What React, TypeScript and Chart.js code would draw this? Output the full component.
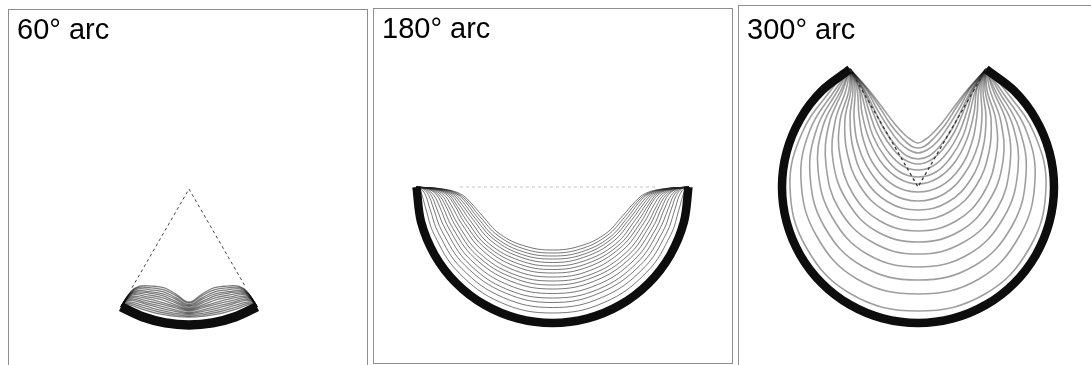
import React, { useEffect, useRef } from "react";
import { Chart, registerables } from "chart.js";

Chart.register(...registerables);

// ---------------- DATA (polar: angle in degrees from straight down, radius in px) -------------
// 60° arc panel
const arc60Angles = [-30, -20, -10, 0, 10, 20, 30];
const arc60Radii = [136, 136, 136, 136, 136, 136, 136];
const guide60Angles = [-30, 0, 30];
const guide60Radii = [114, 0, 114];
const curve60Angles = [-30, -29.5, -27, -21, -14, -7, 0, 7, 14, 21, 27, 29.5, 30];
const curve60Radii = [
  [136, 118, 109, 104, 102, 106, 113, 106, 102, 104, 109, 118, 136],
  [136, 119, 110.5, 106, 104, 107.5, 114, 107.5, 104, 106, 110.5, 119, 136],
  [136, 120.5, 112, 108, 106, 109.5, 115.5, 109.5, 106, 108, 112, 120.5, 136],
  [136, 121.5, 114, 110, 108, 111, 116.5, 111, 108, 110, 114, 121.5, 136],
  [136, 122.5, 115.5, 111.5, 110, 113, 117.5, 113, 110, 111.5, 115.5, 122.5, 136],
  [136, 124, 117, 113.5, 112, 114.5, 119, 114.5, 112, 113.5, 117, 124, 136],
  [136, 125, 118.5, 115.5, 114, 116.5, 120, 116.5, 114, 115.5, 118.5, 125, 136],
  [136, 126, 120.5, 117.5, 116.5, 118, 121, 118, 116.5, 117.5, 120.5, 126, 136],
  [136, 127, 122, 119.5, 118.5, 119.5, 122, 119.5, 118.5, 119.5, 122, 127, 136],
  [136, 128.5, 123.5, 121.5, 120.5, 121.5, 123.5, 121.5, 120.5, 121.5, 123.5, 128.5, 136],
  [136, 129.5, 125, 123, 122.5, 123, 124.5, 123, 122.5, 123, 125, 129.5, 136],
  [136, 130.5, 127, 125, 124.5, 125, 125.5, 125, 124.5, 125, 127, 130.5, 136],
  [136, 132, 128.5, 127, 126.5, 126.5, 127, 126.5, 126.5, 127, 128.5, 132, 136],
  [136, 133, 130, 129, 128.5, 128, 128, 128, 128.5, 129, 130, 133, 136],
];

// 180° arc panel
const arc180Angles = [-90, -75, -60, -45, -30, -15, 0, 15, 30, 45, 60, 75, 90];
const arc180Radii = [136, 136, 136, 136, 136, 136, 136, 136, 136, 136, 136, 136, 136];
const guide180Angles = [-90, 90];
const guide180Radii = [92.5, 105.5];
const curve180Angles = [-90, -89, -86, -80, -68, -48, -24, 0, 24, 48, 68, 80, 86, 89, 90];
const curve180Radii = [
  [136, 110, 93, 84, 76, 70.5, 65, 63, 65, 70.5, 76, 84, 93, 110, 136],
  [136, 111, 95, 86, 78.5, 73, 68, 66, 68, 73, 78.5, 86, 95, 111, 136],
  [136, 112, 96.5, 88, 81, 76, 71, 69, 71, 76, 81, 88, 96.5, 112, 136],
  [136, 113.5, 98.5, 90.5, 83.5, 78.5, 74, 72, 74, 78.5, 83.5, 90.5, 98.5, 113.5, 136],
  [136, 114.5, 100.5, 93, 86, 81.5, 77, 75.5, 77, 81.5, 86, 93, 100.5, 114.5, 136],
  [136, 116, 102.5, 95.5, 89, 85, 80.5, 79, 80.5, 85, 89, 95.5, 102.5, 116, 136],
  [136, 117, 104.5, 98, 92, 88, 84, 82.5, 84, 88, 92, 98, 104.5, 117, 136],
  [136, 118.5, 106.5, 100, 95, 91, 87.5, 86, 87.5, 91, 95, 100, 106.5, 118.5, 136],
  [136, 120, 109, 103, 98, 94.5, 91.5, 90, 91.5, 94.5, 98, 103, 109, 120, 136],
  [136, 121.5, 111.5, 106, 101.5, 98.5, 95.5, 94, 95.5, 98.5, 101.5, 106, 111.5, 121.5, 136],
  [136, 123, 114, 108.5, 104.5, 102, 99, 98, 99, 102, 104.5, 108.5, 114, 123, 136],
  [136, 124, 116, 111.5, 108, 105.5, 103, 102, 103, 105.5, 108, 111.5, 116, 124, 136],
  [136, 126, 119, 114.5, 111.5, 109.5, 107.5, 106.5, 107.5, 109.5, 111.5, 114.5, 119, 126, 136],
  [136, 127.5, 121.5, 118, 115, 113.5, 112, 111, 112, 113.5, 115, 118, 121.5, 127.5, 136],
  [136, 129, 124, 121, 119, 117.5, 116, 115.5, 116, 117.5, 119, 121, 124, 129, 136],
  [136, 131, 127, 124.5, 123, 122, 121, 120.5, 121, 122, 123, 124.5, 127, 131, 136],
  [136, 133, 130.5, 128.5, 127.5, 127, 126.5, 126, 126.5, 127, 127.5, 128.5, 130.5, 133, 136],
];

// 300° arc panel
const arc300Angles = [-150, -135, -120, -105, -90, -75, -60, -45, -30, -15, 0, 15, 30, 45, 60, 75, 90, 105, 120, 135, 150];
const arc300Radii = [136, 136, 136, 136, 136, 136, 136, 136, 136, 136, 136, 136, 136, 136, 136, 136, 136, 136, 136, 136, 136];
const guide300Angles = [-150, 0, 150];
const guide300Radii = [136, 0, 136];
// curves of the 300° panel as [x, y] pairs (px from the centre, y downwards)
const curve300Points: number[][][] = [
  [[-68,-118],[-50,-98],[-36,-80],[-24,-64],[-13,-52],[-5,-46],[0,-44],[5,-46],[13,-52],[24,-64],[36,-80],[50,-98],[68,-118]],
  [[-68,-118],[-51,-98],[-38,-79],[-27,-62],[-16,-49],[-7,-41],[0,-39],[7,-41],[16,-49],[27,-62],[38,-79],[51,-98],[68,-118]],
  [[-68,-118],[-52,-98],[-41,-78],[-30,-60],[-19,-45],[-9,-37],[0,-34],[9,-37],[19,-45],[30,-60],[41,-78],[52,-98],[68,-118]],
  [[-68,-118],[-54,-98],[-44,-78],[-34,-58],[-22,-41],[-11,-31],[0,-28],[11,-31],[22,-41],[34,-58],[44,-78],[54,-98],[68,-118]],
  [[-68,-118],[-55,-98],[-46,-77],[-37,-56],[-25,-38],[-13,-27],[0,-23],[13,-27],[25,-38],[37,-56],[46,-77],[55,-98],[68,-118]],
  [[-68,-118],[-56,-98],[-49,-76],[-41,-54],[-29,-34],[-15,-21],[0,-17],[15,-21],[29,-34],[41,-54],[49,-76],[56,-98],[68,-118]],
  [[-68,-118],[-58,-98],[-52,-75],[-45,-51],[-33,-30],[-18,-15],[0,-10],[18,-15],[33,-30],[45,-51],[52,-75],[58,-98],[68,-118]],
  [[-68,-118],[-59,-98],[-56,-74],[-49,-48],[-37,-25],[-20,-9],[0,-3],[20,-9],[37,-25],[49,-48],[56,-74],[59,-98],[68,-118]],
  [[-68,-118],[-61,-98],[-59,-72],[-54,-45],[-42,-19],[-23,-1],[0,5],[23,-1],[42,-19],[54,-45],[59,-72],[61,-98],[68,-118]],
  [[-68,-118],[-63,-98],[-64,-71],[-60,-42],[-47,-14],[-26,7],[0,14],[26,7],[47,-14],[60,-42],[64,-71],[63,-98],[68,-118]],
  [[-68,-118],[-65,-97],[-68,-70],[-65,-39],[-53,-8],[-30,15],[0,23],[30,15],[53,-8],[65,-39],[68,-70],[65,-97],[68,-118]],
  [[-68,-118],[-67,-97],[-73,-68],[-71,-35],[-58,-1],[-33,24],[0,33],[33,24],[58,-1],[71,-35],[73,-68],[67,-97],[68,-118]],
  [[-68,-118],[-69,-97],[-78,-66],[-78,-31],[-65,7],[-38,34],[0,44],[38,34],[65,7],[78,-31],[78,-66],[69,-97],[68,-118]],
  [[-68,-118],[-72,-97],[-83,-65],[-85,-26],[-71,14],[-42,44],[0,55],[42,44],[71,14],[85,-26],[83,-65],[72,-97],[68,-118]],
  [[-68,-118],[-75,-97],[-89,-63],[-92,-22],[-79,22],[-46,55],[0,67],[46,55],[79,22],[92,-22],[89,-63],[75,-97],[68,-118]],
  [[-68,-118],[-77,-97],[-95,-61],[-100,-17],[-86,30],[-51,67],[0,80],[51,67],[86,30],[100,-17],[95,-61],[77,-97],[68,-118]],
  [[-68,-118],[-80,-97],[-101,-59],[-108,-12],[-94,39],[-56,79],[0,93],[56,79],[94,39],[108,-12],[101,-59],[80,-97],[68,-118]],
  [[-68,-118],[-83,-97],[-108,-57],[-117,-7],[-102,48],[-61,92],[0,107],[61,92],[102,48],[117,-7],[108,-57],[83,-97],[68,-118]],
  [[-68,-118],[-87,-97],[-116,-54],[-128,0],[-112,60],[-67,107],[0,124],[67,107],[112,60],[128,0],[116,-54],[87,-97],[68,-118]],
];

const titles = ["60° arc", "180° arc", "300° arc"];

// ---------------- LAYOUT / STYLE ----------------
const PANEL_W = 358;
const PANEL_GAP = 5;
const PAGE_MARGIN = 8;
const ROW_TOP = 5;
const PAD_LEFT = 8;
const TITLE_SIZE = 29;
const FONT = '"Liberation Sans", Arial, Helvetica, sans-serif';

const panelLayout = [
  { top: 9, height: 358, cx: 189, cy: 189, titlePad: 3.5, arcWidth: 9.5, curveColor: "rgba(0,0,0,0.5)", curveWidth: 1.3 },
  { top: 8, height: 354, cx: 552.5, cy: 187, titlePad: 3.5, arcWidth: 8.5, curveColor: "rgba(30,30,30,0.6)", curveWidth: 1 },
  { top: 5, height: 362, cx: 918, cy: 187, titlePad: 8, arcWidth: 8.5, curveColor: "rgba(0,0,0,0.38)", curveWidth: 1.6 },
];

const DEG = Math.PI / 180;
function polar(angles: number[], radii: number[]) {
  return angles.map((a, i) => ({ x: radii[i] * Math.sin(a * DEG), y: radii[i] * Math.cos(a * DEG) }));
}
function pairs(p: number[][]) {
  return p.map(([x, y]) => ({ x, y }));
}

function arcDataset(angles: number[], radii: number[], width: number) {
  return {
    data: polar(angles, radii),
    showLine: true,
    borderColor: "#0d0d0d",
    borderWidth: width,
    borderCapStyle: "butt",
    borderJoinStyle: "round",
    pointRadius: 0,
    tension: 0.34,
    order: 1,
  };
}
function guideDataset(data: { x: number; y: number }[], color: string, width: number) {
  return {
    data,
    showLine: true,
    borderColor: color,
    borderWidth: width,
    borderDash: [3, 3],
    pointRadius: 0,
    tension: 0,
    order: 0,
  };
}
function curveDataset(data: { x: number; y: number }[], color: string, width: number) {
  return {
    data,
    showLine: true,
    borderColor: color,
    borderWidth: width,
    pointRadius: 0,
    tension: 0.4,
    order: 2,
  };
}

function buildDatasets(i: number): any[] {
  const lay = panelLayout[i];
  if (i === 0) {
    return [
      guideDataset(polar(guide60Angles, guide60Radii), "#444", 1),
      arcDataset(arc60Angles, arc60Radii, lay.arcWidth),
      ...curve60Radii.map((r) => curveDataset(polar(curve60Angles, r), lay.curveColor, lay.curveWidth)),
    ];
  }
  if (i === 1) {
    return [
      guideDataset(polar(guide180Angles, guide180Radii), "#c4c4c4", 1),
      arcDataset(arc180Angles, arc180Radii, lay.arcWidth),
      ...curve180Radii.map((r) => curveDataset(polar(curve180Angles, r), lay.curveColor, lay.curveWidth)),
    ];
  }
  return [
    guideDataset(polar(guide300Angles, guide300Radii), "#333", 1.3),
    arcDataset(arc300Angles, arc300Radii, lay.arcWidth),
    ...curve300Points.map((p) => curveDataset(pairs(p), lay.curveColor, lay.curveWidth)),
  ];
}

function ArcPanel({ index }: { index: number }) {
  const ref = useRef<HTMLCanvasElement>(null);
  const lay = panelLayout[index];
  const left = PAGE_MARGIN + index * (PANEL_W + 2 + PANEL_GAP);

  useEffect(() => {
    const innerLeft = left + 1;
    const innerTop = lay.top + 1;
    const titleH = lay.titlePad + TITLE_SIZE * 1.2;
    const chart = new Chart(ref.current as HTMLCanvasElement, {
      type: "scatter",
      data: { datasets: buildDatasets(index) },
      options: {
        animation: false,
        responsive: true,
        maintainAspectRatio: false,
        events: [],
        layout: { padding: { left: PAD_LEFT, top: 0, right: 0, bottom: 0 } },
        plugins: {
          legend: { display: false },
          tooltip: { enabled: false },
          title: {
            display: true,
            text: titles[index],
            align: "start",
            color: "#000",
            font: { family: FONT, size: TITLE_SIZE, weight: "normal", lineHeight: 1.2 },
            padding: { top: lay.titlePad, bottom: 0 },
          },
        },
        scales: {
          x: {
            type: "linear",
            display: false,
            min: innerLeft + PAD_LEFT - lay.cx,
            max: innerLeft + PANEL_W - lay.cx,
          },
          y: {
            type: "linear",
            display: false,
            reverse: true,
            min: innerTop + titleH - lay.cy,
            max: innerTop + lay.height - lay.cy,
          },
        },
      } as any,
    });
    return () => chart.destroy();
  }, []);

  return (
    <div
      style={{
        flex: "0 0 auto",
        width: PANEL_W,
        height: lay.height,
        marginTop: lay.top - ROW_TOP,
        border: "1px solid #8e8e8e",
        background: "#fff",
      }}
    >
      <div style={{ position: "relative", width: PANEL_W, height: lay.height }}>
        <canvas ref={ref} />
      </div>
    </div>
  );
}

export default function App() {
  useEffect(() => {
    document.documentElement.style.overflow = "hidden";
    document.body.style.overflow = "hidden";
  }, []);
  return (
    <div
      style={{
        position: "absolute",
        left: PAGE_MARGIN,
        top: ROW_TOP,
        display: "flex",
        alignItems: "flex-start",
        gap: PANEL_GAP,
        width: 1091 - PAGE_MARGIN,
        height: 365 - ROW_TOP,
        overflow: "hidden",
      }}
    >
      {[0, 1, 2].map((i) => (
        <ArcPanel key={i} index={i} />
      ))}
    </div>
  );
}
